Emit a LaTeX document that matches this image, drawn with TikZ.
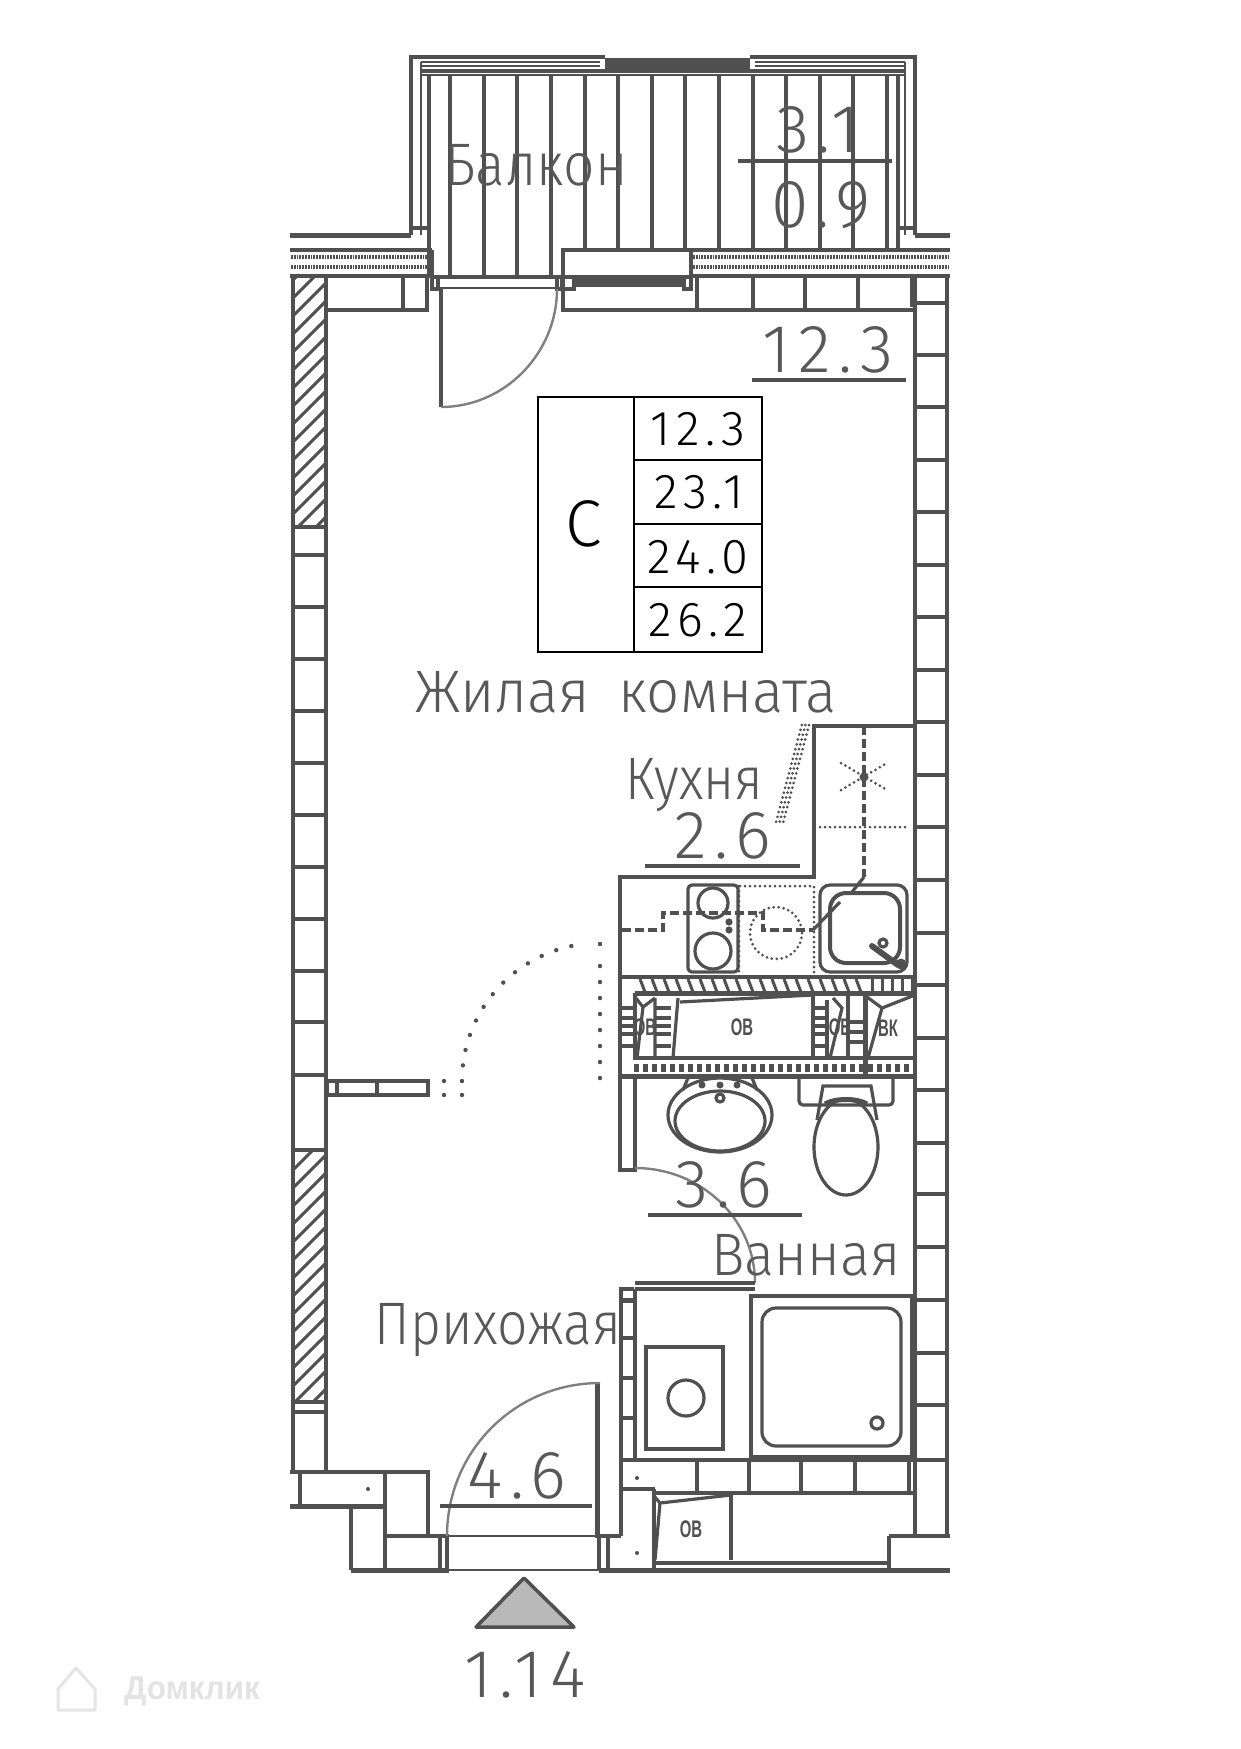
\documentclass[tikz,border=0pt]{standalone}
\usepackage{fontspec}
\usepackage{graphicx}
\newfontfamily\planfont{Fira Sans Light}
\newfontfamily\areafont[LetterSpace=11]{Fira Sans Light}
\newfontfamily\shaftfont{Liberation Sans}
\definecolor{planline}{HTML}{505050}
\definecolor{plantext}{HTML}{585858}
\begin{document}
\begin{tikzpicture}[x=1pt,y=-1pt,
	wall/.style={draw=planline, line width=3.2pt},
	heavywall/.style={draw=planline, line width=5pt},
	thinwall/.style={draw=planline, line width=1.2pt},
	swing/.style={draw=gray, line width=2.4pt},
	dotrow/.style={draw=planline, line width=3pt, line cap=round, dash pattern=on 0pt off 5pt},
	dashrow/.style={draw=planline, line width=3.4pt, dash pattern=on 9pt off 4pt},
	felt/.style={draw=planline, line width=4.6pt, dash pattern=on 1.8pt off 1pt},
	hatchline/.style={draw=planline, line width=3pt},
	roomlabel/.style={text=plantext, inner sep=0pt, font=\planfont\fontsize{60}{60}\selectfont},
	arealabel/.style={text=plantext, inner sep=0pt, font=\areafont\fontsize{68}{68}\selectfont},
	tablelabel/.style={text=black, inner sep=0pt, font=\areafont\fontsize{49}{49}\selectfont},
	shaftlabel/.style={text=planline, inner sep=0pt, font=\shaftfont\bfseries\fontsize{24}{24}\selectfont},
	]
	\useasboundingbox[fill=white] (0,0) rectangle (1241,1749);

	%Balcony
	\draw[wall] (411,235) -- (411,57) -- (605,57);
	\draw[wall] (750,57) -- (915,57) -- (915,235);
	\fill[planline] (605,58) rectangle (750,69);
	\draw[thinwall] (421,62) -- (600,62) (421,66) -- (600,66);
	\draw[thinwall] (755,62) -- (905,62) (755,66) -- (905,66);
	\draw[wall] (421,71) -- (905,71);
	\draw[thinwall] (421,75) -- (905,75);
	\draw[thinwall] (421,62) -- (421,235) (905,62) -- (905,235);
	\draw[wall] (429,75) -- (429,277);
	\draw[wall] (898,75) -- (898,250);
	\foreach \sx in {450,484,517,551} \draw[wall] (\sx,75) -- (\sx,277);
	\foreach \sx in {585,618,652,685,719,753,786,820,853,887} \draw[wall] (\sx,75) -- (\sx,250);
	\draw[wall] (411,228) -- (427,228) (898,228) -- (915,228);
	\draw[heavywall] (290,235) -- (411,235) (915,235) -- (950,235);

	%Facade band
	\draw[wall] (290,250) -- (432,250) (432,250) -- (432,277);
	\draw[wall] (563,277) -- (563,250) -- (950,250);
	\draw[wall] (290,276) -- (432,276) (691,276) -- (950,276);
	\draw[felt] (291,257) -- (430,257) (291,267) -- (430,267);
	\draw[felt] (693,257) -- (948,257) (693,267) -- (948,267);
	\draw[wall] (691,250) -- (691,276);

	%Window and balcony door
	\draw[wall] (432,277) -- (563,277) -- (691,277);
	\fill[planline] (575,279) rectangle (682,287);
	\draw[thinwall] (438,288) -- (555,288);
	\draw[wall] (432,277) rectangle (438,289) (557,277) rectangle (562,289) (563,277) rectangle (574,289) (684,277) rectangle (691,289);
	\draw[wall] (441,289) -- (441,407);
	\draw[swing] (441,407) .. controls (505,407) and (557,353) .. (557,289);

	%Wall cells under the band
	\draw[wall] (327,310) -- (427,310) -- (427,277);
	\draw[wall] (403,277) -- (403,310);
	\draw[wall] (563,277) -- (563,310) -- (915,310);
	\foreach \cx in {697,753,805,858} \draw[wall] (\cx,277) -- (\cx,310);
	\draw[heavywall] (912,277) -- (912,307);

	%Left wall
	\draw[wall] (293,278) -- (293,1472);
	\draw[wall] (326,278) -- (326,1472);
	\begin{scope}
	\clip (293,278) rectangle (326,527);
	\foreach \hy in {280,298,...,600} \draw[hatchline] (293,\hy) -- (326,\hy-33);
	\end{scope}
	\begin{scope}
	\clip (293,1150) rectangle (326,1402);
	\foreach \hy in {1152,1170,...,1460} \draw[hatchline] (293,\hy) -- (326,\hy-33);
	\end{scope}
	\foreach \ly in {527,555,607,659,711,763,815,867,919,971,1022,1075,1150,1402,1412} \draw[wall] (293,\ly) -- (326,\ly);

	%Right wall
	\draw[wall] (915,277) -- (915,1536);
	\draw[wall] (947,277) -- (947,1536);
	\foreach \ly in {303,355,407,460,512,565,617,670,722,775,827,880,933,985,1038,1090,1143,1194,1247,1300,1353,1405,1460} \draw[wall] (915,\ly) -- (947,\ly);

	%Partition and its dotted door
	\draw[wall] (327,1081) rectangle (428,1095);
	\draw[wall] (337,1081) -- (337,1095) (377,1081) -- (377,1095);
	\foreach \a in {0,6.5,...,84} \fill[planline] ({600-138*cos(\a)},{1081-138*sin(\a)}) circle (2.2);
	\fill[planline] (600,944) circle (2.2);
	\foreach \dy in {966,982,...,1090} \fill[planline] (600,\dy) circle (2.2);
	\fill[planline] (444,1081) circle (2.2) (444,1095) circle (2.2) (462,1095) circle (2.2);

	%Kitchen
	\draw[wall] (915,726) -- (814,726) -- (814,877) -- (620,877) -- (620,1170) -- (635,1170) -- (635,1076);
	\foreach \rx in {0,3.6,7.2} \draw[dotrow] (809-\rx,725) -- (783-\rx,823);
	\draw[dashrow] (864,726) -- (864,877);
	\draw[wall] (864,877) -- (852,892);
	\draw[dotrow] (820,827) -- (908,827);
	\draw[dotrow] (841,763) -- (887,790) (841,790) -- (887,763);
	\fill[planline] (864,777) circle (4.5);
	\draw[wall, rounded corners=4pt] (688,885) rectangle (738,972);
	\draw[wall] (713,903) circle (15);
	\draw[wall] (713,951) circle (18);
	\fill[planline] (729,922) circle (3.6) (729,930) circle (3.6);
	\draw[dashrow] (622,930) -- (663,930) -- (663,913) -- (763,913) -- (763,930) -- (813,930);
	\draw[wall] (813,930) -- (840,902);
	\draw[dotrow] (776,933) circle (26);
	\draw[dotrow] (740,886) -- (814,886) -- (814,972);
	\draw[dotrow] (739,886) -- (739,972);
	\draw[wall, rounded corners=10pt] (820,885) rectangle (907,972);
	\draw[wall, line width=4pt, rounded corners=16pt] (830,893) rectangle (900,963);
	\draw[line width=6pt, planline, line cap=round] (872,946) -- (898,965);
	\draw[wall] (883,943) circle (4);
	\fill[planline] (901,964) circle (5.5);

	%Shaft block
	\draw[wall] (620,977) -- (915,977);
	\begin{scope}
	\clip (620,977) rectangle (865,993);
	\foreach \hx in {640,652,...,860} \draw[hatchline] (\hx,979) -- (\hx+5,992);
	\end{scope}
	\foreach \hx in {872,882,...,912} \draw[hatchline] (\hx,979) -- (\hx,991);
	\draw[heavywall] (635,993) -- (915,993);
	\draw[wall] (635,1058) -- (915,1058);
	\draw[line width=8pt, planline, dash pattern=on 5pt off 4pt] (634,1068) -- (915,1068);
	\draw[heavywall] (620,1076) -- (915,1076);
	\draw[wall] (635,993) -- (635,1060);
	\foreach \ty in {1008,1018,1026,1034,1046} \draw[wall] (622,\ty) -- (634,\ty);
	\foreach \ty in {1008,1018,1026,1034,1046} \draw[wall] (656,\ty) -- (671,\ty);
	\draw[wall] (643,1007) -- (637,1058) (635,997) -- (643,1007) -- (655,998);
	\draw[wall] (655,998) -- (655,1058) (678,998) -- (673,1058);
	\draw[wall] (680,1002) -- (813,995);
	\draw[wall] (813,995) -- (813,1058) (827,1000) -- (827,1058) (848,995) -- (848,1058);
	\foreach \ty in {1008,1018,1026,1034,1046} \draw[wall] (814,\ty) -- (826,\ty);
	\foreach \ty in {1022,1032,1042} \draw[wall] (850,\ty) -- (863,\ty);
	\draw[wall] (833,998) -- (842,1008) -- (830,1058);
	\draw[heavywall] (865,993) -- (865,1076);
	\draw[wall] (867,997) -- (882,1008) -- (915,995) (882,1008) -- (868,1058);
	\node[shaftlabel] (shaftleft) at (645,1027) {\scalebox{.62}[1]{ОВ}};
	\node[shaftlabel] (shaftmain) at (742,1027) {\scalebox{.62}[1]{ОВ}};
	\node[shaftlabel] (shaftright) at (840,1027) {\scalebox{.62}[1]{ОВ}};
	\node[shaftlabel] (shaftwater) at (888,1028) {\scalebox{.62}[1]{ВК}};

	%Bathroom
	\draw[wall] (720,1115) ellipse (52 and 37);
	\draw[wall] (720,1121) ellipse (45 and 30);
	\draw[wall] (720,1098) circle (4);
	\draw[wall] (688,1078) -- (683,1090) (752,1078) -- (757,1090);
	\fill[planline] (702,1085) circle (3.5) (720,1085) circle (3.5) (737,1085) circle (3.5);
	\draw[wall, rounded corners=4pt] (799,1077) -- (799,1105) -- (893,1105) -- (893,1077);
	\draw[wall] (846,1147) ellipse (32 and 48);
	\draw[wall] (817,1120) -- (823,1086) -- (871,1086) -- (877,1120);
	\draw[heavywall] (825,1104) .. controls (835,1098) and (857,1098) .. (867,1104);
	\draw[swing] (635,1168) .. controls (701,1168) and (755,1219) .. (755,1283);

	%Hall block and bath
	\draw[wall] (621,1536) -- (621,1289) -- (634,1289);
	\draw[wall] (635,1283) -- (755,1283) (635,1289) -- (755,1289);
	\draw[wall] (635,1289) -- (635,1460);
	\draw[heavywall] (621,1300) -- (635,1300);
	\foreach \ty in {1338,1378,1418} \draw[wall] (621,\ty) -- (635,\ty);
	\draw[wall] (646,1347) rectangle (723,1449);
	\draw[wall] (686,1398) circle (18);
	\draw[wall] (751,1296) rectangle (912,1457);
	\draw[wall, rounded corners=14pt] (762,1308) rectangle (901,1446);
	\draw[wall] (877,1423) circle (6);
	\draw[heavywall] (912,1296) -- (912,1460);
	\draw[heavywall] (751,1459) -- (915,1459);
	\draw[wall] (621,1460) -- (751,1460);
	\foreach \cx in {697,749,801,855,909} \draw[wall] (\cx,1460) -- (\cx,1493);
	\draw[wall] (621,1489) -- (655,1489);
	\draw[wall] (654,1489) -- (654,1570);
	\draw[wall] (655,1493) -- (915,1493);
	\draw[wall] (731,1493) -- (731,1560);
	\draw[wall] (655,1497) -- (660,1503) -- (731,1495) (660,1503) -- (655,1560);
	\draw[wall] (655,1563) -- (889,1563);
	\node[shaftlabel] (shaftlow) at (691,1529) {\scalebox{.62}[1]{ОВ}};
	\fill[planline] (637,1478) circle (2) (637,1553) circle (2) (368,1489) circle (2);

	%Entrance and outer contour
	\draw[wall] (290,1472) -- (428,1472) -- (428,1536);
	\draw[wall] (300,1472) -- (300,1506);
	\draw[heavywall] (290,1506) -- (385,1506);
	\draw[wall] (385,1472) -- (385,1570) (351,1506) -- (351,1570);
	\draw[wall] (385,1536) -- (449,1536) (595,1536) -- (621,1536);
	\draw[thinwall] (449,1536) -- (595,1536) (449,1570) -- (599,1570);
	\draw[heavywall] (351,1570) -- (449,1570) (599,1570) -- (950,1570);
	\draw[wall] (440,1536) -- (440,1570) (447,1536) -- (447,1570);
	\draw[wall] (599,1536) -- (599,1570) (608,1536) -- (608,1570);
	\draw[heavywall] (597,1383) -- (597,1536);
	\draw[swing] (447,1536) .. controls (447,1451) and (515,1383) .. (600,1383);
	\draw[wall] (889,1536) -- (950,1536) (889,1536) -- (889,1570);
	\draw[wall] (440,1506) -- (592,1506);

	%Section mark
	\coordinate (tipa) at (524,1578);
	\coordinate (tipb) at (476,1627);
	\coordinate (tipc) at (574,1627);
	\filldraw[draw=planline, fill=gray!55, line width=3.5pt, line join=round] (tipa) -- (tipb) -- (tipc) -- cycle;

	%Underlines
	\draw[wall] (738,161) -- (892,161);
	\draw[wall] (752,380) -- (906,380);
	\draw[wall] (645,866) -- (800,866);
	\draw[wall] (648,1215) -- (802,1215);

	%Area table
	\draw[black, line width=2.4pt] (538,397) rectangle (762,652);
	\draw[black, line width=2.4pt] (634,397) -- (634,652);
	\foreach \ty in {460,524,587} \draw[black, line width=2.4pt] (634,\ty) -- (762,\ty);
	\node[tablelabel, font=\planfont\fontsize{66}{66}\selectfont] (flattype) at (584,524) {C};
	\node[tablelabel] (area1) at (698,429) {12.3};
	\node[tablelabel] (area2) at (699,492) {23.1};
	\node[tablelabel] (area3) at (698,557) {24.0};
	\node[tablelabel] (area4) at (698,620) {26.2};

	%Texts
	\node[roomlabel] (balcony) at (536,165) {\scalebox{.92}[1]{Балкон}};
	\node[roomlabel] (living) at (626,692) {\scalebox{.97}[1]{Жилая\hspace{12pt} комната}};
	\node[roomlabel] (kitchen) at (694,785) {\scalebox{.88}[1]{Кухня}};
	\node[roomlabel] (bath) at (806,1255) {\scalebox{.93}[1]{Ванная}};
	\node[roomlabel] (hall) at (498,1330) {\scalebox{.89}[1]{Прихожая}};
	\node[arealabel] (balconyA) at (818,130) {3.1};
	\node[arealabel] (balconyB) at (821,205) {0.9};
	\node[arealabel] (livingA) at (828,350) {12.3};
	\node[arealabel] (kitchenA) at (723,836) {2.6};
	\node[arealabel] (bathA) at (724,1185) {3.6};
	\node[arealabel] (hallA) at (517,1476) {4.6};
	\node[arealabel] (flatnum) at (525,1675) {1.14};

	%Watermark
	\draw[gray!20, line width=3pt, line join=round] (58,1689) -- (76,1668) -- (95,1689) -- (95,1710) -- (58,1710) -- cycle;
	\node[text=gray!22, inner sep=0pt, font=\shaftfont\bfseries\fontsize{33}{33}\selectfont] (brand) at (192,1691) {\scalebox{.95}[1]{Домклик}};
\end{tikzpicture}
\end{document}
